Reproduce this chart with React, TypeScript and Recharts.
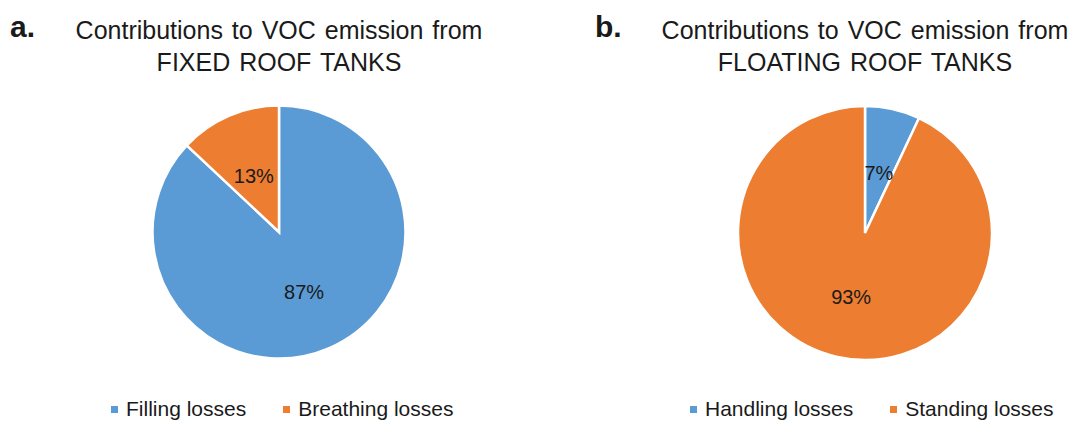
import { PieChart, Pie, Cell, Legend } from 'recharts';

const fixedNames = ['Filling losses', 'Breathing losses'];
const fixedValues = [87, 13];
const floatingNames = ['Handling losses', 'Standing losses'];
const floatingValues = [7, 93];
const sliceColors = ['#5B9BD5', '#ED7D31'];

const FONT = '"Liberation Sans", Arial, sans-serif';
const RADIAN = Math.PI / 180;

function renderLabel({ cx, cy, midAngle, outerRadius, value }: any) {
  const r = outerRadius * 0.5;
  const x = cx + r * Math.cos(-midAngle * RADIAN);
  const y = cy + r * Math.sin(-midAngle * RADIAN);
  return (
    <text x={x} y={y + 2} textAnchor="middle" dominantBaseline="central" fill="#1a1a1a"
      style={{ fontFamily: FONT, fontSize: 20 }}>
      {`${value}%`}
    </text>
  );
}

interface PanelProps {
  letter: string;
  letterX: number;
  title: string[];
  names: string[];
  values: number[];
  left: number;
  width: number;
  cx: number;
  cy: number;
  radius: number;
  legendLeft: number;
}

function Panel({ letter, letterX, title, names, values, left, width, cx, cy, radius, legendLeft }: PanelProps) {
  const data = names.map((name, i) => ({ name, value: values[i] }));

  const legendContent = () => (
    <div style={{ display: 'flex', alignItems: 'center', fontFamily: FONT, fontSize: 21, color: '#1a1a1a' }}>
      {names.map((n, i) => (
        <div key={n} style={{ display: 'flex', alignItems: 'center', marginRight: i < names.length - 1 ? 37 : 0 }}>
          <div style={{ width: 7, height: 7, background: sliceColors[i], marginRight: 8 }} />
          <span>{n}</span>
        </div>
      ))}
    </div>
  );

  return (
    <div style={{ position: 'absolute', left, top: 0, width, height: 421 }}>
      <div style={{ position: 'absolute', left: letterX, top: 10, fontFamily: FONT, fontSize: 30, fontWeight: 700, color: '#1a1a1a' }}>
        {letter}
      </div>
      <div style={{
        position: 'absolute', left: cx - 250, width: 500, top: 14, textAlign: 'center',
        fontFamily: FONT, fontSize: 25, lineHeight: '32px', wordSpacing: 2, color: '#1a1a1a', zIndex: 2,
      }}>
        {title.map((t) => <div key={t}>{t}</div>)}
      </div>
      <PieChart width={width} height={421} margin={{ top: 0, right: 0, bottom: 0, left: 0 }}>
        <Pie
          data={data}
          dataKey="value"
          nameKey="name"
          cx={cx}
          cy={cy}
          outerRadius={radius}
          startAngle={90}
          endAngle={-270}
          stroke="#ffffff"
          strokeWidth={2.5}
          label={renderLabel}
          labelLine={false}
          isAnimationActive={false}
        >
          {data.map((_, i) => (
            <Cell key={i} fill={sliceColors[i]} />
          ))}
        </Pie>
        <Legend
          content={legendContent}
          wrapperStyle={{ position: 'absolute', left: legendLeft, top: 397, width: 'auto', height: 24 }}
        />
      </PieChart>
    </div>
  );
}

export default function App() {
  return (
    <div style={{ position: 'absolute', left: 0, top: 0, width: 1071, height: 421, background: '#ffffff', overflow: 'hidden' }}>
      <Panel
        letter="a."
        letterX={10}
        title={['Contributions to VOC emission from', 'FIXED ROOF TANKS']}
        names={fixedNames}
        values={fixedValues}
        left={0}
        width={535}
        cx={279}
        cy={232}
        radius={126.5}
        legendLeft={111}
      />
      <Panel
        letter="b."
        letterX={60}
        title={['Contributions to VOC emission from', 'FLOATING ROOF TANKS']}
        names={floatingNames}
        values={floatingValues}
        left={535}
        width={536}
        cx={330}
        cy={233}
        radius={127}
        legendLeft={155}
      />
    </div>
  );
}
